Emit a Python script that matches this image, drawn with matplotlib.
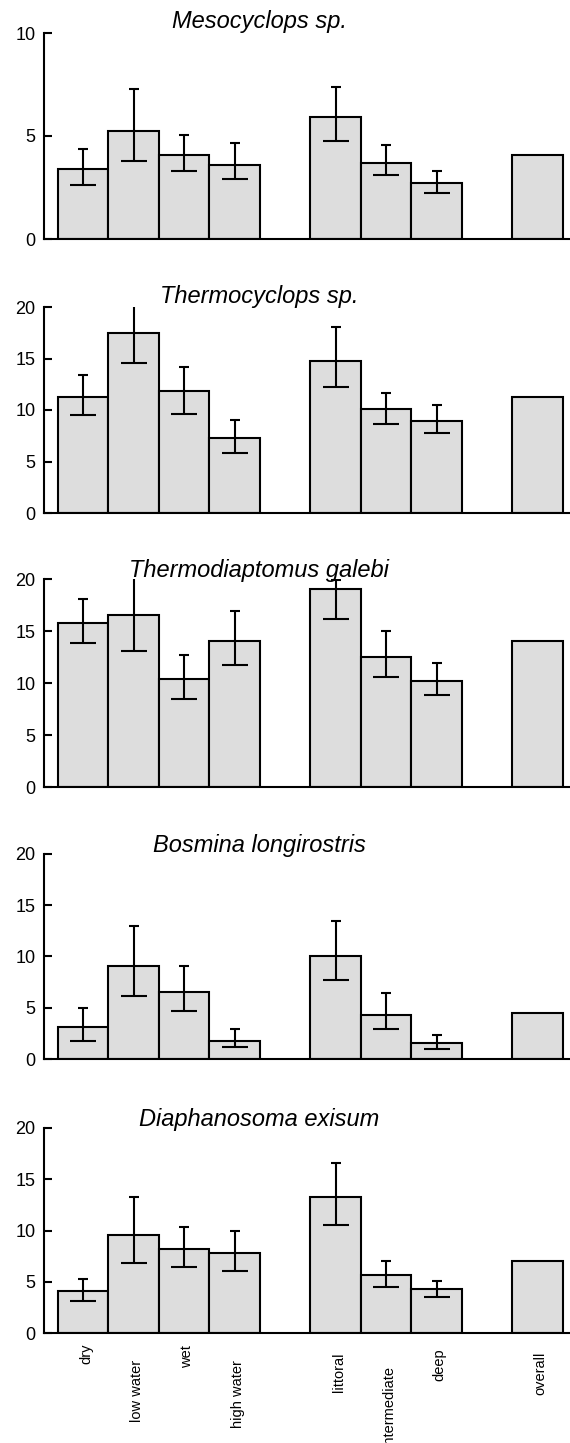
import numpy as np
import matplotlib
matplotlib.use("Agg")
import matplotlib.pyplot as plt
from matplotlib.transforms import offset_copy, blended_transform_factory

# data
categories = ["dry", "low water", "wet", "high water", "littoral", "intermediate", "deep", "overall"]
group_sizes = [4, 3, 1]   # seasons, zones, overall

titles = ["Mesocyclops sp.", "Thermocyclops sp.", "Thermodiaptomus galebi",
          "Bosmina longirostris", "Diaphanosoma exisum"]
y_max = [10, 20, 20, 20, 20]

nan = np.nan
meso_mean = [3.40, 5.23, 4.08, 3.60, 5.92, 3.70, 2.72, 4.08]
meso_low = [2.61, 3.78, 3.29, 2.90, 4.75, 3.11, 2.22, nan]
meso_high = [4.38, 7.28, 5.04, 4.65, 7.37, 4.55, 3.29, nan]

thermo_mean = [11.23, 17.47, 11.82, 7.31, 14.77, 10.06, 8.90, 11.23]
thermo_low = [9.48, 14.55, 9.64, 5.78, 12.21, 8.67, 7.73, nan]
thermo_high = [13.38, 21.0, 14.16, 9.06, 18.05, 11.62, 10.45, nan]

galebi_mean = [15.74, 16.51, 10.38, 14.04, 19.00, 12.50, 10.16, 14.04]
galebi_low = [13.81, 13.04, 8.43, 11.70, 16.12, 10.58, 8.81, nan]
galebi_high = [18.08, 21.0, 12.69, 16.92, 19.87, 15.03, 11.92, nan]

bosmina_mean = [3.08, 9.11, 6.58, 1.75, 10.08, 4.28, 1.56, 4.47]
bosmina_low = [1.75, 6.19, 4.64, 1.13, 7.75, 2.88, 0.94, nan]
bosmina_high = [5.02, 13.00, 9.11, 2.88, 13.45, 6.42, 2.30, nan]

diaph_mean = [4.07, 9.53, 8.16, 7.77, 13.24, 5.63, 4.26, 6.99]
diaph_low = [3.09, 6.80, 6.41, 6.02, 10.50, 4.46, 3.48, nan]
diaph_high = [5.24, 13.24, 10.31, 9.92, 16.59, 6.99, 5.04, nan]

panels = [
    (meso_mean, meso_low, meso_high),
    (thermo_mean, thermo_low, thermo_high),
    (galebi_mean, galebi_low, galebi_high),
    (bosmina_mean, bosmina_low, bosmina_high),
    (diaph_mean, diaph_low, diaph_high),
]

# layout (pixels in a 570x1443 canvas)
W, H = 570, 1443
ax_left, ax_right = 44, 570
ax_tops = [33, 307, 579, 854, 1128]
ax_zeros = [239, 513, 787, 1059, 1333]
title_base = [28, 303, 577, 852, 1126]
title_x = 259
label_pad_px = [10, 27, 12, 27, 19, 33, 15, 19]

plt.rcParams["font.family"] = ["Liberation Sans", "DejaVu Sans"]

# bar positions: one empty slot between groups
pos = []
p = 0
for g in group_sizes:
    pos.extend(range(p, p + g))
    p += g + 1
pos = np.array(pos, dtype=float)

fig = plt.figure(figsize=(W / 100, H / 100), dpi=100)

for i, (mean, low, high) in enumerate(panels):
    mean = np.array(mean)
    low = np.array(low)
    high = np.array(high)
    ax = fig.add_axes([ax_left / W, 1 - ax_zeros[i] / H,
                       (ax_right - ax_left) / W, (ax_zeros[i] - ax_tops[i]) / H])
    ax.bar(pos, mean, width=1.0, color="#dddddd", edgecolor="black", linewidth=1.5, zorder=2)

    ok = ~np.isnan(low)
    ax.vlines(pos[ok], low[ok], high[ok], color="black", linewidth=1.5, zorder=3)
    ax.plot(pos[ok], high[ok], linestyle="none", marker="_", markersize=7.5,
            markeredgewidth=1.5, color="black", zorder=3)
    ax.plot(pos[ok], low[ok], linestyle="none", marker="_", markersize=19,
            markeredgewidth=1.5, color="black", zorder=3)

    ax.set_xlim(-0.777, 9.64)
    ax.set_ylim(0, y_max[i])
    ax.set_yticks(np.arange(0, y_max[i] + 1, 5))
    ax.set_xticks([])
    for s in ["top", "right"]:
        ax.spines[s].set_visible(False)
    ax.spines["left"].set_linewidth(1.5)
    ax.spines["bottom"].set_linewidth(1.5)
    ax.spines["bottom"].set_zorder(4)
    ax.tick_params(axis="y", direction="in", length=6, width=1.5, pad=6, labelsize=13)
    ax.patch.set_visible(False)

    fig.text(title_x / W, 1 - title_base[i] / H, titles[i], fontsize=17,
             style="italic", ha="center", va="baseline")

    if i == len(panels) - 1:
        trans = blended_transform_factory(ax.transData, ax.transAxes)
        for x, lab, pad in zip(pos, categories, label_pad_px):
            t = offset_copy(trans, fig=fig, x=3, y=-pad, units="dots")
            ax.text(x, 0, lab, transform=t, rotation=90, ha="center", va="top",
                    fontsize=10.5, clip_on=False)

fig.savefig("out.png", dpi=100)
